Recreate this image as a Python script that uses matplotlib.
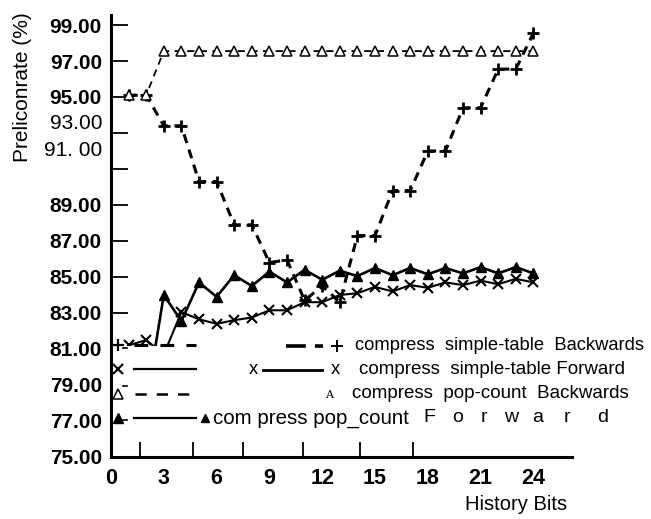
import numpy as np
import matplotlib
matplotlib.use("Agg")
import matplotlib.pyplot as plt
from matplotlib.patches import Rectangle

plt.rcParams['font.family'] = ['Liberation Sans', 'DejaVu Sans']

# history bits on the x axis
bits = list(range(1, 25))

# prediction rate (%) per series
st_backwards = [95.1, 95.1, 93.4, 93.4, 90.3, 90.3, 87.9, 87.9, 85.8, 85.95,
                83.7, 84.5, 83.6, 87.3, 87.3, 89.8, 89.8, 92.0, 92.0, 94.4,
                94.4, 96.55, 96.55, 98.55]
st_forward = [81.2, 81.5, 80.7, 83.05, 82.65, 82.4, 82.6, 82.75, 83.15, 83.15,
              83.6, 83.6, 84.0, 84.1, 84.45, 84.2, 84.55, 84.4, 84.7, 84.55,
              84.8, 84.6, 84.9, 84.7]
pc_backwards = [95.1, 95.1] + [97.55] * 22
pc_forward = [78.3, 78.0, 84.0, 82.55, 84.7, 83.9, 85.1, 84.5, 85.3, 84.7,
              85.4, 84.85, 85.35, 85.05, 85.5, 85.1, 85.5, 85.15, 85.5, 85.2,
              85.55, 85.2, 85.55, 85.2]

y_ticks = list(range(75, 100, 2))
y_labels = ['%.2f' % v for v in y_ticks]
x_ticks = list(range(0, 25, 3))
x_marks = [0, 1.65, 4.66, 6.0, 7.5, 10.9, 14.15, 17.15]

W, H = 651, 519


def fx(px):
    return px / W


def fy(py):
    return 1 - py / H


fig = plt.figure(figsize=(W / 100, H / 100), dpi=100)
ax = fig.add_axes([fx(111), fy(457), (572 - 111) / W, (457 - 15) / H])

ax.plot(bits, st_backwards, color='black', lw=2.2, ls=(0, (3, 2.2)),
        marker='+', ms=9, mew=2, zorder=3)
ax.plot(bits, st_forward, color='black', lw=1.5, marker='x', ms=7, mew=1.5,
        zorder=3)
ax.plot(bits, pc_backwards, color='black', lw=1.3, ls=(0, (4, 3)),
        marker='^', ms=6.5, mfc='white', mec='black', mew=1.1, zorder=3)
ax.plot(bits, pc_forward, color='black', lw=1.9, marker='^', ms=7,
        zorder=3)

ax.set_xlim(0, (572 - 111) / 17.6)
ax.set_ylim(75, 75 + (457 - 15) / 18)

for s in ['top', 'right']:
    ax.spines[s].set_visible(False)
for s in ['left', 'bottom']:
    ax.spines[s].set_linewidth(2.2)

ax.set_yticks(y_ticks)
ax.set_yticklabels([l if l not in ('93.00', '91.00') else '' for l in y_labels],
                   fontsize=15, fontweight='bold')
ax.tick_params(axis='y', direction='in', length=12, width=1.3, pad=6.5)
ax.text(-0.0195, 93.55, '93.00', transform=ax.get_yaxis_transform(),
        ha='right', va='center', fontsize=15)
ax.text(-0.0195, 92.0, '91. 00', transform=ax.get_yaxis_transform(),
        ha='right', va='center', fontsize=15)

ax.set_xticks(x_ticks)
ax.set_xticklabels([str(v) for v in x_ticks], fontsize=15.5, fontweight='bold')
ax.tick_params(axis='x', which='major', length=0, pad=8)
ax.set_xticks(x_marks, minor=True)
ax.tick_params(axis='x', which='minor', direction='in', length=11, width=1.3)

fig.text(fx(23), fy(87), 'Preliconrate (%)', rotation=90, ha='center',
         va='center', fontsize=15)
fig.text(fx(516), fy(505), 'History Bits', ha='center', va='center',
         fontsize=14.5)

# legend, drawn piece by piece like the scanned original
ft = fig.transFigure
fig.add_artist(Rectangle((fx(113), fy(432)), (200 - 113) / W, (432 - 346) / H,
                         transform=ft, facecolor='white', edgecolor='none',
                         zorder=4))


def seg(x0, x1, py, **kw):
    fig.add_artist(plt.Line2D([fx(x0), fx(x1)], [fy(py), fy(py)],
                              transform=ft, color='black', zorder=5, **kw))


def mark(px, py, **kw):
    fig.add_artist(plt.Line2D([fx(px)], [fy(py)], transform=ft, color='black',
                              ls='none', zorder=5, **kw))


rows = [345, 369, 394, 418]
mark(118, rows[0], marker='+', ms=8, mew=1.6)
mark(118, rows[1], marker='x', ms=7, mew=1.5)
mark(118, rows[2], marker='^', ms=6.5, mfc='white', mew=1.1)
mark(118, rows[3], marker='^', ms=7)
seg(123, 127, rows[0] + 3, lw=1.2)
seg(123, 127, rows[2] - 8, lw=1.2)
seg(123, 127, rows[3] + 2, lw=1.2)
seg(134, 196, rows[0], lw=2.2, ls=(0, (4.5, 4)))
seg(134, 196, rows[1], lw=1.6)
seg(135, 196, rows[2], lw=1.8, ls=(0, (4.5, 4)))
seg(134, 196, rows[3], lw=1.6)

fs = 13.2
seg(286, 323, rows[0] + 1, lw=2.6, ls=(0, (5.5, 2.5)))
mark(337, rows[0] + 1, marker='+', ms=8, mew=1.4)
fig.text(fx(355), fy(rows[0] + 1), 'compress  simple-table  Backwards',
         va='center', fontsize=fs)
fig.text(fx(253), fy(rows[1]), 'x', ha='center', va='center', fontsize=fs)
seg(263, 322, rows[1] + 1, lw=2.0)
fig.text(fx(335), fy(rows[1]), 'x', ha='center', va='center', fontsize=fs)
fig.text(fx(359), fy(rows[1]), 'compress  simple-table Forward',
         va='center', fontsize=13.5)
fig.text(fx(329), fy(rows[2] + 1), 'A', ha='center', va='center',
         fontsize=8, family='DejaVu Serif')
fig.text(fx(352), fy(rows[2]), 'compress  pop-count  Backwards',
         va='center', fontsize=13.5)
mark(205, rows[3], marker='^', ms=6)
fig.text(fx(213), fy(rows[3]), 'com press pop_count', va='center',
         fontsize=14.8)
for px, ch in zip([429, 458, 484, 511, 538, 567, 603], 'Forward'):
    fig.text(fx(px), fy(rows[3]), ch, ha='center', va='center', fontsize=14)

fig.savefig('out.png', dpi=100)
